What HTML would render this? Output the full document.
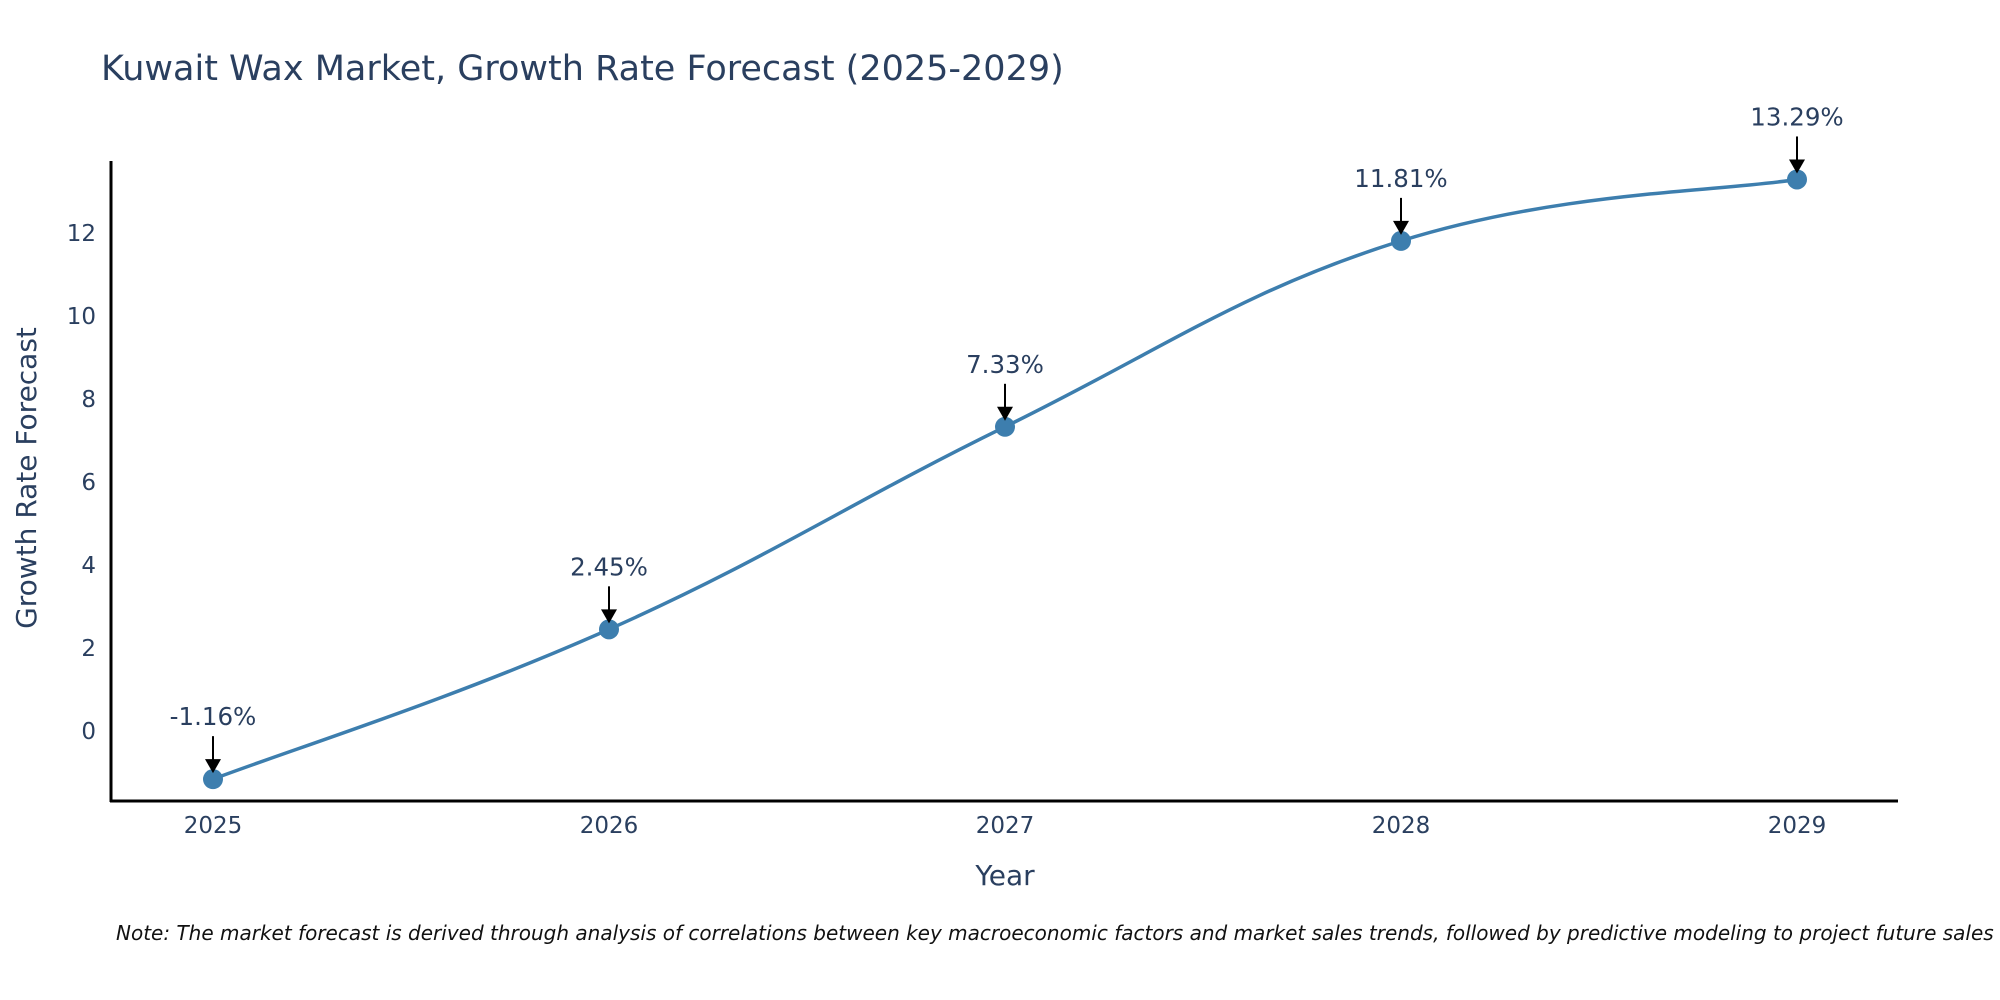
<!DOCTYPE html>
<html><head><meta charset="utf-8"><style>
body{margin:0;background:#fff;}
svg{display:block;font-family:"DejaVu Sans","Liberation Sans",sans-serif;}
</style></head><body>
<svg id="chart" width="2000" height="1000">
<text x="101" y="80" font-size="35" fill="#2a3f5f">Kuwait Wax Market, Growth Rate Forecast (2025-2029)</text>
<g id="axes"></g>
<g id="plot"></g>
<text x="1005" y="885" font-size="28" fill="#2a3f5f" text-anchor="middle">Year</text>
<text transform="translate(36,478) rotate(-90)" font-size="28" fill="#2a3f5f" text-anchor="middle">Growth Rate Forecast</text>
<text x="116" y="940" font-size="20" font-style="italic" fill="#111">Note: The market forecast is derived through analysis of correlations between key macroeconomic factors and market sales trends, followed by predictive modeling to project future sales</text>
</svg>
<script>
const years=["2025","2026","2027","2028","2029"];
const values=[-1.16,2.45,7.33,11.81,13.29];
const labels=["-1.16%","2.45%","7.33%","11.81%","13.29%"];
const yTicks=[0,2,4,6,8,10,12];
const NS="http://www.w3.org/2000/svg";
function xs(i){return 213+i*396;}
function ys(v){return 731-v*41.5;}
function mk(tag,attrs,parent){const e=document.createElementNS(NS,tag);for(const k in attrs)e.setAttribute(k,attrs[k]);parent.appendChild(e);return e;}
const axes=document.getElementById('axes'),plot=document.getElementById('plot');
let l=mk('line',{x1:111,y1:161,x2:111,y2:802,stroke:'#000','stroke-width':3},axes);


l=mk('line',{x1:110,y1:801,x2:1898,y2:801,stroke:'#000','stroke-width':3},axes);


yTicks.forEach(t=>{const e=mk('text',{x:96,y:ys(t)+8,'font-size':23,fill:'#2a3f5f','text-anchor':'end'},axes);e.textContent=t;

});
years.forEach((y,i)=>{const e=mk('text',{x:xs(i),y:833,'font-size':23,fill:'#2a3f5f','text-anchor':'middle'},axes);e.textContent=y;

});
const pts=values.map((v,i)=>[xs(i),ys(v)]);
let d='M'+pts[0][0]+','+pts[0][1];
for(let i=0;i<pts.length-1;i++){const p0=pts[i-1]||pts[i],p1=pts[i],p2=pts[i+1],p3=pts[i+2]||p2;const t=0.2;
d+=` C${p1[0]+(p2[0]-p0[0])*t},${p1[1]+(p2[1]-p0[1])*t} ${p2[0]-(p3[0]-p1[0])*t},${p2[1]-(p3[1]-p1[1])*t} ${p2[0]},${p2[1]}`;}
const path=mk('path',{d:d,fill:'none',stroke:'#3d7eae','stroke-width':3.5},plot);


pts.forEach((p,i)=>{const c=mk('circle',{cx:p[0],cy:p[1],r:10,fill:'#3d7eae'},plot);


const a=mk('line',{x1:p[0],y1:p[1]-43,x2:p[0],y2:p[1]-18,stroke:'#000','stroke-width':2},plot);


const h=mk('polygon',{points:`${p[0]-8},${p[1]-20} ${p[0]+8},${p[1]-20} ${p[0]},${p[1]-6}`,fill:'#000'},plot);


const t=mk('text',{x:p[0],y:p[1]-54,'font-size':24.5,fill:'#2a3f5f','text-anchor':'middle'},plot);t.textContent=labels[i];

});
</script>
</body></html>
